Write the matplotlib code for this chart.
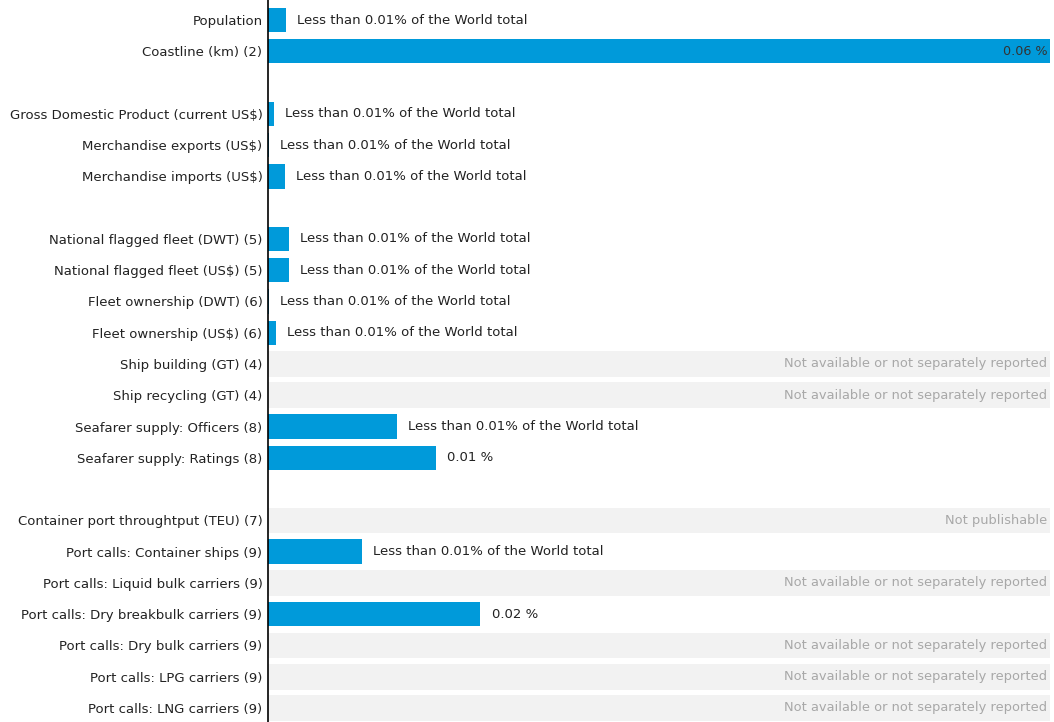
import matplotlib
matplotlib.use("Agg")
import matplotlib.pyplot as plt

categories = [
    "Population", "Coastline (km) (2)", None,
    "Gross Domestic Product (current US$)", "Merchandise exports (US$)", "Merchandise imports (US$)", None,
    "National flagged fleet (DWT) (5)", "National flagged fleet (US$) (5)",
    "Fleet ownership (DWT) (6)", "Fleet ownership (US$) (6)",
    "Ship building (GT) (4)", "Ship recycling (GT) (4)",
    "Seafarer supply: Officers (8)", "Seafarer supply: Ratings (8)", None,
    "Container port throughtput (TEU) (7)", "Port calls: Container ships (9)",
    "Port calls: Liquid bulk carriers (9)", "Port calls: Dry breakbulk carriers (9)",
    "Port calls: Dry bulk carriers (9)", "Port calls: LPG carriers (9)", "Port calls: LNG carriers (9)",
]
# share of world total, in percent (None = not available)
values = [
    0.00138, 0.06, None,
    0.00046, 0.00005, 0.0013, None,
    0.0016, 0.0016, 0.00005, 0.0006,
    None, None,
    0.0099, 0.0129, None,
    None, 0.0072, None, 0.0163, None, None, None,
]
labels = [
    "Less than 0.01% of the World total", "0.06 %", None,
    "Less than 0.01% of the World total", "Less than 0.01% of the World total", "Less than 0.01% of the World total", None,
    "Less than 0.01% of the World total", "Less than 0.01% of the World total",
    "Less than 0.01% of the World total", "Less than 0.01% of the World total",
    "Not available or not separately reported", "Not available or not separately reported",
    "Less than 0.01% of the World total", "0.01 %", None,
    "Not publishable", "Less than 0.01% of the World total",
    "Not available or not separately reported", "0.02 %",
    "Not available or not separately reported", "Not available or not separately reported",
    "Not available or not separately reported",
]

BAR = "#009ADA"
BAND = "#F2F2F2"
XMAX = 0.06
FS = 9.5

fig = plt.figure(figsize=(10.54, 7.22), dpi=100)
ax = fig.add_axes([268 / 1054, 0.0, (1050 - 268) / 1054, 1.0])
ax.set_xlim(0, XMAX)
pitch = 688 / 22.0
top = -20 / pitch
bottom = 22 + (722 - 708) / pitch
ax.set_ylim(bottom, top)

for i, (cat, v, lab) in enumerate(zip(categories, values, labels)):
    if cat is None:
        continue
    if v is None:
        ax.barh(i, XMAX, height=0.82, color=BAND, zorder=1)
        ax.text(XMAX * 0.9965, i, lab, ha="right", va="center", fontsize=FS - 0.1, color="#A8A8A8", zorder=3)
    else:
        ax.barh(i, v, height=0.78, color=BAR, zorder=2)
        if v >= XMAX * 0.9:
            ax.text(XMAX * 0.9965, i, lab, ha="right", va="center", fontsize=FS - 0.3, color="#333333", zorder=3)
        else:
            ax.annotate(lab, (v, i), xytext=(8, 0), textcoords="offset points",
                        ha="left", va="center", fontsize=FS, color="#222222", zorder=3)

ticks = [i for i, c in enumerate(categories) if c is not None]
ax.set_yticks(ticks)
ax.set_yticklabels([categories[i] for i in ticks], fontsize=FS, color="#222222")
ax.tick_params(axis="y", length=0, pad=4)
ax.set_xticks([])
for s in ["top", "right", "bottom"]:
    ax.spines[s].set_visible(False)
ax.spines["left"].set_color("black")
ax.spines["left"].set_linewidth(1.2)
ax.spines["left"].set_zorder(5)

fig.savefig("out.png", dpi=100)
